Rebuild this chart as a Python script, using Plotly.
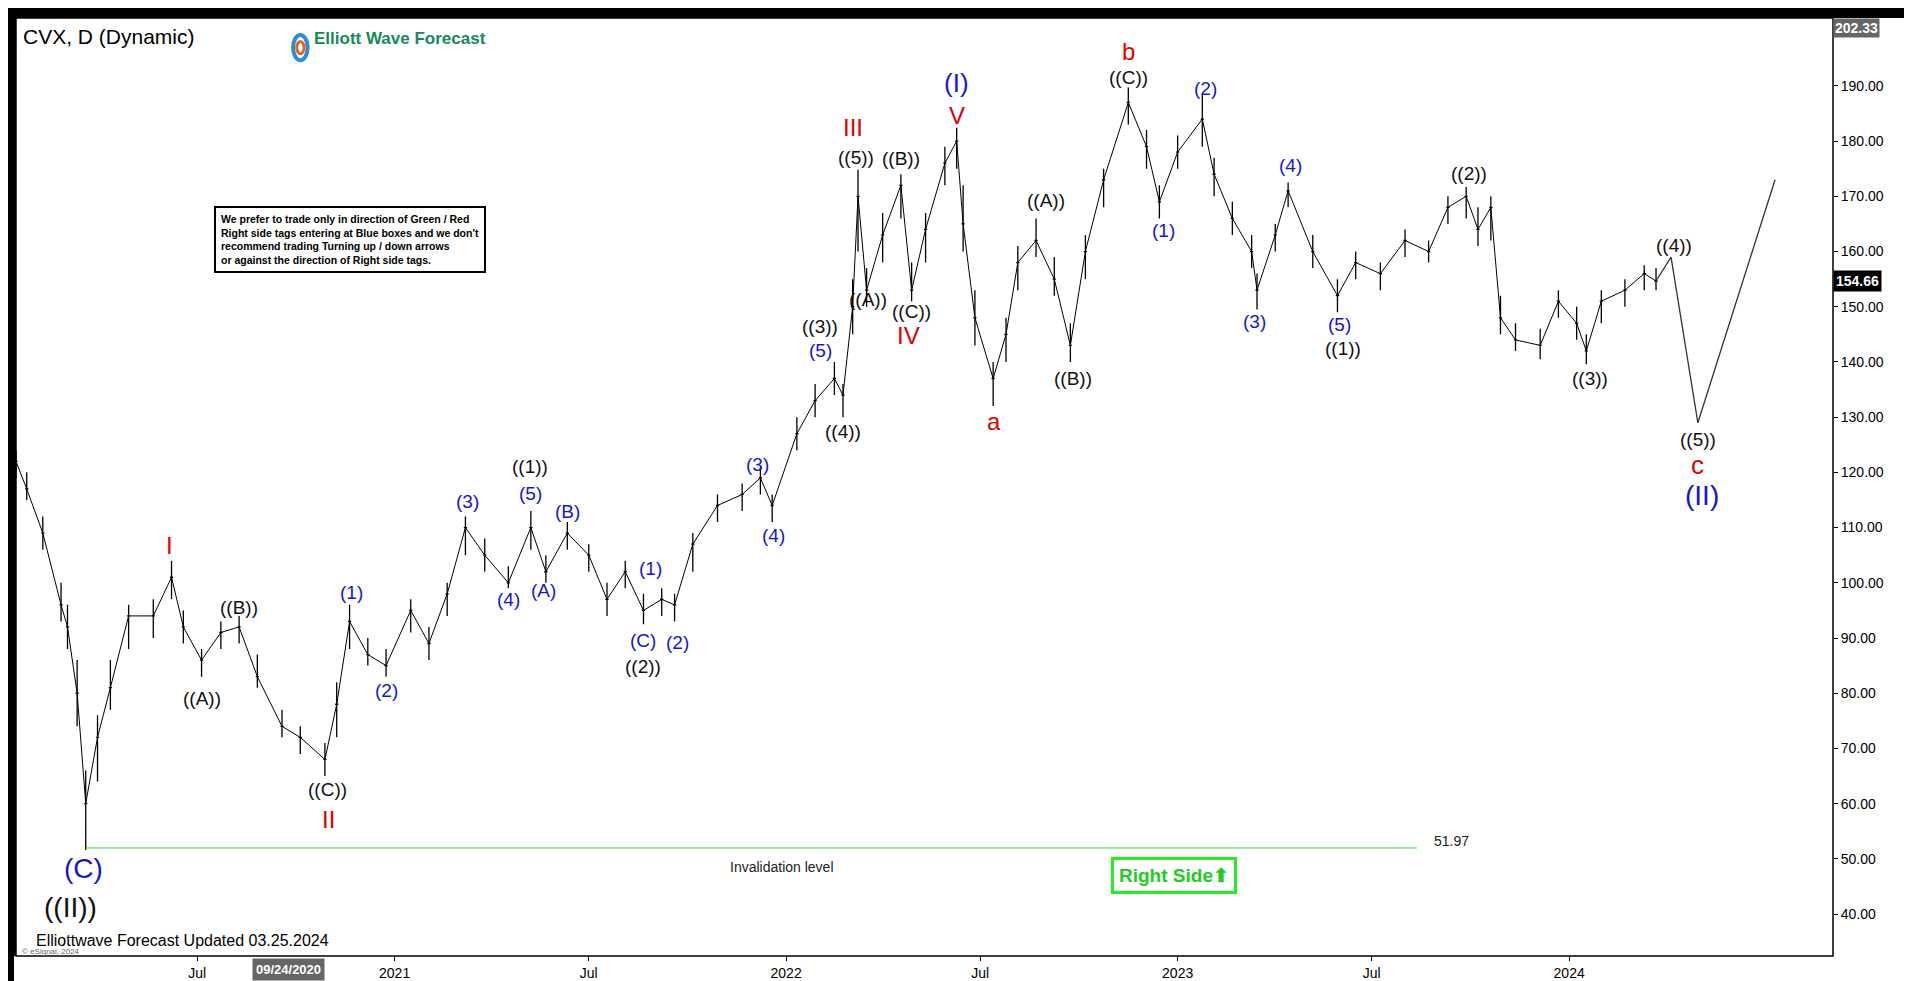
import plotly.graph_objects as go

dates = ["2020-01-14","2020-01-24","2020-02-08","2020-02-25","2020-03-02","2020-03-11","2020-03-19","2020-03-30","2020-04-11","2020-04-28","2020-05-21","2020-06-07","2020-06-18","2020-07-05","2020-07-23","2020-08-09","2020-08-26","2020-09-18","2020-10-05","2020-10-28","2020-11-08","2020-11-20","2020-12-07","2020-12-24",
"2021-01-16","2021-02-02","2021-02-19","2021-03-08","2021-03-26","2021-04-17","2021-05-08","2021-05-22","2021-06-11","2021-07-01","2021-07-18","2021-08-04","2021-08-21","2021-09-07","2021-09-19","2021-10-06","2021-10-29","2021-11-21","2021-12-08","2021-12-19",
"2022-01-11","2022-01-28","2022-02-15","2022-02-23","2022-03-04","2022-03-09","2022-03-17","2022-04-01","2022-04-18","2022-04-28","2022-05-11","2022-05-29","2022-06-09","2022-06-15","2022-06-26","2022-07-13","2022-07-25","2022-08-05","2022-08-22","2022-09-08","2022-09-23","2022-10-07","2022-10-24","2022-11-16","2022-12-03","2022-12-15",
"2023-01-01","2023-01-24","2023-02-04","2023-02-21","2023-03-11","2023-03-16","2023-04-02","2023-04-14","2023-05-07","2023-05-30","2023-06-16","2023-07-09","2023-08-01","2023-08-23","2023-09-10","2023-09-27","2023-10-08","2023-10-20","2023-10-29","2023-11-12","2023-12-05","2023-12-22",
"2024-01-08","2024-01-17","2024-01-31","2024-02-22","2024-03-11","2024-03-22"]
closes = [122,117,109,96,92,80,60,72,81,94,94,101,92,86,91,92,83,74,72,68,78,93,87,85,
95,89,98,110,105,100,110,102,109,105,97,102,95,97,96,107,114,116,119,114,
127,133,137,134,150,170,153,163,172,153,164,176,180,165,148,137,145,158,162,155,143,160,173,187,179,169,
178,184,174,166,160,153,163,171,160,152,158,156,162,160,168,170,164,168,148,144,143,151,
147,142,151,153,156,154.66]
highs = [124,120,112,100,96,86,66,76,86,96,97,104,95,88,93,94,87,77,74,71,82,96,90,88,
97,92,100,112,108,103,113,105,111,107,100,104,98,99,98,109,116,118,121,116,
130,136,140,136,155,174.8,157,167,174,158,167,179,182.4,172,153,140,148,161,166,159,147,163,175,189.7,182,172,
181,188.4,177,169,163,156,165,172.5,163,155,160,158,164,162,170,171.7,168,170,152,147,146,153,
150,145,153,155,157.5,157]
lows = [119,115,106,93,88,74,51.6,64,77,88,90,97,89,83,88,89,81,72,69,65,72,88,85,83,
91,86,94,105,102,99,106,100,106,102,94,99,92.5,94,93,102,111,113,116,111,
124,130,134,130,145,160,150,158,166,151,158,172,175,160,143,132,140,153,159,152,140,155,168,183,175,166,
175,179,170,163,157,149.5,160,168,157,149,155,153,159,158,165,166,161,162,145,142,140.5,148,
144,139.6,147,150,153,153]

proj_dates = ["2024-03-22","2024-04-05","2024-04-30","2024-07-11"]
proj_values = [154.66,159,129,173]

inval_dates = ["2020-03-19","2023-08-12"]
inval_level = 51.97

tick_dates = ["2020-07-01","2021-01-01","2021-07-01","2022-01-01","2022-07-01","2023-01-01","2023-07-01","2024-01-01"]
tick_text = ["Jul","2021","Jul","2022","Jul","2023","Jul","2024"]

BLUE="#1515d0"; RED="#e00000"; BLK="#111111"
labels = [
("2020-03-17",48.2,"(C)",BLUE,28),("2020-03-05",41.2,"((II))",BLK,28),
("2020-06-05",106.7,"I",RED,24),("2020-07-05",79,"((A))",BLK,19),("2020-08-09",95.5,"((B))",BLK,19),
("2020-10-30",62.5,"((C))",BLK,19),("2020-10-31",57.2,"II",RED,24),
("2020-11-22",98.2,"(1)",BLUE,19),("2020-12-24",80.5,"(2)",BLUE,19),("2021-03-10",114.7,"(3)",BLUE,19),
("2021-05-07",121.0,"((1))",BLK,19),("2021-05-08",116.2,"(5)",BLUE,19),("2021-04-17",97,"(4)",BLUE,19),
("2021-05-20",98.6,"(A)",BLUE,19),("2021-06-11",112.9,"(B)",BLUE,19),("2021-08-28",102.6,"(1)",BLUE,19),
("2021-08-21",89.6,"(C)",BLUE,19),("2021-09-22",89.1,"(2)",BLUE,19),("2021-08-21",84.9,"((2))",BLK,19),
("2021-12-05",121.5,"(3)",BLUE,19),("2021-12-20",108.5,"(4)",BLUE,19),("2022-02-02",142,"(5)",BLUE,19),
("2022-02-02",146.4,"((3))",BLK,19),("2022-02-23",127.4,"((4))",BLK,19),("2022-03-04",182.5,"III",RED,24),
("2022-03-07",177,"((5))",BLK,19),("2022-04-18",176.8,"((B))",BLK,19),("2022-03-18",151.4,"((A))",BLK,19),
("2022-04-28",149.2,"((C))",BLK,19),("2022-04-25",144.8,"IV",RED,24),("2022-06-09",190.6,"(I)",BLUE,26),
("2022-06-09",184.7,"V",RED,24),("2022-07-14",129.2,"a",RED,24),("2022-08-31",169.3,"((A))",BLK,19),
("2022-09-25",137,"((B))",BLK,19),("2022-11-16",196.2,"b",RED,24),("2022-11-16",191.5,"((C))",BLK,19),
("2023-01-27",189.6,"(2)",BLUE,19),("2022-12-19",163.8,"(1)",BLUE,19),("2023-04-16",175.5,"(4)",BLUE,19),
("2023-03-14",147.3,"(3)",BLUE,19),("2023-06-01",146.8,"(5)",BLUE,19),("2023-06-04",142.4,"((1))",BLK,19),
("2023-09-30",174.1,"((2))",BLK,19),("2024-01-20",137,"((3))",BLK,19),("2024-04-08",161.1,"((4))",BLK,19),
("2024-04-30",126,"((5))",BLK,19),("2024-04-30",121.3,"c",RED,26),("2024-05-04",115.8,"(II)",BLUE,28),
]

fig = go.Figure()
fig.add_trace(go.Ohlc(x=dates, open=closes, high=highs, low=lows, close=closes,
    increasing_line_color="black", decreasing_line_color="black", line_width=1.3, tickwidth=0.3, hoverinfo="skip"))
fig.add_trace(go.Scatter(x=dates, y=closes, mode="lines", line=dict(color="black", width=1), hoverinfo="skip"))
fig.add_trace(go.Scatter(x=proj_dates, y=proj_values, mode="lines", line=dict(color="#333", width=1.3), hoverinfo="skip"))
fig.add_trace(go.Scatter(x=inval_dates, y=[inval_level]*2, mode="lines", line=dict(color="#33dd33", width=1), hoverinfo="skip"))

ann = []
for d,p,t,c,s in labels:
    ann.append(dict(x=d,y=p,text=t,showarrow=False,font=dict(color=c,size=s,family="Liberation Sans, Arial")))
ann += [
 dict(x="2023-08-26",y=53.3,text="51.97",showarrow=False,xanchor="left",font=dict(size=14,color="#222",family="Liberation Sans")),
 dict(x="2021-12-28",y=48.5,text="Invalidation level",showarrow=False,font=dict(size=14,color="#222",family="Liberation Sans")),
 dict(x="2022-12-29",y=47,text="<b>Right Side⬆</b>",showarrow=False,font=dict(size=19,color="#22cc22",family="Liberation Sans"),
      bordercolor="#22ee22",borderwidth=3,borderpad=5,bgcolor="white"),
 dict(xref="paper",yref="paper",x=0.003,y=0.995,xanchor="left",yanchor="top",text="CVX, D (Dynamic)",showarrow=False,
      font=dict(size=21,color="black",family="Liberation Sans")),
 dict(xref="paper",yref="paper",x=0.163,y=0.99,xanchor="left",yanchor="top",text="<b>Elliott Wave Forecast</b>",showarrow=False,
      font=dict(size=17,color="#17885a",family="Liberation Sans")),
 dict(xref="paper",yref="paper",x=0.109,y=0.8,xanchor="left",yanchor="top",showarrow=False,align="left",
      text="<b>We prefer to trade only in direction of Green / Red<br>Right side tags entering at Blue boxes and we don't<br>recommend trading Turning up / down arrows<br>or against the direction of Right side tags.</b>",
      font=dict(size=10.5,color="black",family="Liberation Sans"),bordercolor="black",borderwidth=2,borderpad=5,bgcolor="white"),
 dict(xref="paper",yref="paper",x=0.01,y=0.005,xanchor="left",yanchor="bottom",text="Elliottwave Forecast Updated 03.25.2024",showarrow=False,
      font=dict(size=16,color="black",family="Liberation Sans")),
 dict(xref="paper",yref="paper",x=0.002,y=-0.002,xanchor="left",yanchor="bottom",text="© eSignal, 2024",showarrow=False,
      font=dict(size=8,color="#666",family="Liberation Sans")),
 dict(xref="paper",y=154.66,x=1.0,xanchor="left",text="<b>154.66</b>",showarrow=False,bgcolor="black",
      font=dict(size=14,color="white",family="Liberation Sans"),borderpad=2),
 dict(xref="paper",yref="paper",y=1.0,x=1.0,xanchor="left",yanchor="top",text="<b>202.33</b>",showarrow=False,bgcolor="#666",
      font=dict(size=14,color="white",family="Liberation Sans"),borderpad=1),
 dict(x="2020-09-24",yref="paper",y=-0.002,yanchor="top",text="<b>09/24/2020</b>",showarrow=False,bgcolor="#666",
      font=dict(size=13,color="white",family="Liberation Sans"),borderpad=3),
]

W=1817; H=940
shapes = [
 dict(type="rect",xref="paper",yref="paper",x0=1,x1=1+80/W,y0=-25/H,y1=1,fillcolor="white",line_width=0,layer="below"),
 dict(type="rect",xref="paper",yref="paper",x0=-2/W,x1=1+80/W,y0=-25/H,y1=0,fillcolor="white",line_width=0,layer="below"),
 dict(type="rect",xref="paper",yref="paper",x0=0,x1=1,y0=0,y1=1,line=dict(color="black",width=1.5)),
 dict(type="circle",xref="paper",yref="paper",x0=0.1525,x1=0.1605,y0=0.955,y1=0.982,fillcolor="white",line=dict(color="#2a8fd8",width=4)),
 dict(type="circle",xref="paper",yref="paper",x0=0.1545,x1=0.1585,y0=0.962,y1=0.975,fillcolor="white",line=dict(color="#e8632a",width=3)),
]
fig.update_layout(
 width=1912,height=981,margin=dict(l=8,r=87,t=10,b=31),
 paper_bgcolor="black",plot_bgcolor="white",showlegend=False,
 annotations=ann,shapes=shapes,
 xaxis=dict(type="date",range=["2020-01-14","2024-09-03"],tickvals=tick_dates,ticktext=tick_text,
   showgrid=False,ticks="outside",ticklen=4,tickcolor="black",rangeslider=dict(visible=False),
   tickfont=dict(size=14,color="black",family="Liberation Sans"),zeroline=False),
 yaxis=dict(side="right",range=[32.4,202.3],tickvals=list(range(40,200,10)),tickformat=".2f",
   showgrid=False,ticks="outside",ticklen=4,tickcolor="black",zeroline=False,
   tickfont=dict(size=14,color="black",family="Liberation Sans")),
)
fig.write_html("out.html")
